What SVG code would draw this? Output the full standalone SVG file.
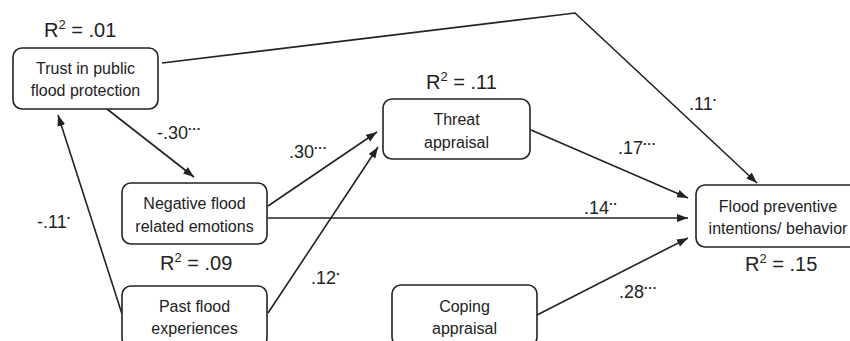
<svg xmlns="http://www.w3.org/2000/svg" width="850" height="341" viewBox="0 0 850 341">
<style>
.box{fill:#fff;stroke:#222;stroke-width:1.6}
.bt{font-family:"Liberation Sans",Arial,sans-serif;font-size:16px;fill:#222;text-anchor:middle}
.lb{font-family:"Liberation Sans",Arial,sans-serif;font-size:18px;fill:#222}
.r2{font-family:"Liberation Sans",Arial,sans-serif;font-size:20px;fill:#222}
.sup{font-size:13px;font-weight:bold}
.s2{font-size:13px}
.c{fill:none;stroke:#222;stroke-width:1.6}
</style>
<defs>
<marker id="ah" markerUnits="userSpaceOnUse" markerWidth="12" markerHeight="9" refX="11" refY="4" orient="auto">
<path d="M0,0 L11,4 L0,8 z" fill="#222"/>
</marker>
</defs>
<rect width="850" height="341" fill="#fff"/>
<g id="connectors">
<polyline class="c" points="162,63 575,13 757,183" marker-end="url(#ah)"/>
<line class="c" x1="107" y1="109" x2="194" y2="177" marker-end="url(#ah)"/>
<line class="c" x1="122" y1="314" x2="58" y2="115" marker-end="url(#ah)"/>
<line class="c" x1="268" y1="206" x2="377" y2="132" marker-end="url(#ah)"/>
<line class="c" x1="268" y1="313" x2="378" y2="147" marker-end="url(#ah)"/>
<line class="c" x1="268" y1="218" x2="688" y2="218" marker-end="url(#ah)"/>
<line class="c" x1="531" y1="130" x2="688" y2="198" marker-end="url(#ah)"/>
<line class="c" x1="537" y1="315" x2="688" y2="238" marker-end="url(#ah)"/>
<text class="lb" x="157" y="139">-.30<tspan class="sup" dy="-6">···</tspan></text>
<text class="lb" x="37" y="228">-.11<tspan class="sup" dy="-6">·</tspan></text>
<text class="lb" x="289" y="158">.30<tspan class="sup" dy="-6">···</tspan></text>
<text class="lb" x="311" y="284">.12<tspan class="sup" dy="-6">·</tspan></text>
<text class="lb" x="584" y="214">.14<tspan class="sup" dy="-6">··</tspan></text>
<text class="lb" x="618" y="154">.17<tspan class="sup" dy="-6">···</tspan></text>
<text class="lb" x="689" y="110">.11<tspan class="sup" dy="-6">·</tspan></text>
<text class="lb" x="619" y="298">.28<tspan class="sup" dy="-6">···</tspan></text>
</g>
<g id="trust">
<rect class="box" x="13" y="48" width="145" height="61" rx="9"/>
<text class="bt" x="85.5" y="74">Trust in public</text>
<text class="bt" x="85.5" y="96">flood protection</text>
<text class="r2" x="44" y="37">R<tspan class="s2" dy="-8">2</tspan><tspan dy="8"> = .01</tspan></text>
</g>
<g id="negative">
<rect class="box" x="122" y="183" width="145" height="61" rx="9"/>
<text class="bt" x="194.5" y="209">Negative flood</text>
<text class="bt" x="194.5" y="232">related emotions</text>
<text class="r2" x="160" y="270">R<tspan class="s2" dy="-8">2</tspan><tspan dy="8"> = .09</tspan></text>
</g>
<g id="past">
<rect class="box" x="122" y="286" width="145" height="61" rx="9"/>
<text class="bt" x="194.5" y="312">Past flood</text>
<text class="bt" x="194.5" y="334">experiences</text>
</g>
<g id="threat">
<rect class="box" x="383" y="99" width="147" height="60" rx="9"/>
<text class="bt" x="456.5" y="125">Threat</text>
<text class="bt" x="456.5" y="148">appraisal</text>
<text class="r2" x="426" y="89">R<tspan class="s2" dy="-8">2</tspan><tspan dy="8"> = .11</tspan></text>
</g>
<g id="coping">
<rect class="box" x="392" y="285" width="145" height="61" rx="9"/>
<text class="bt" x="464.5" y="312">Coping</text>
<text class="bt" x="464.5" y="334">appraisal</text>
</g>
<g id="flood">
<rect class="box" x="696" y="185" width="170" height="62" rx="9"/>
<text class="bt" x="778" y="212">Flood preventive</text>
<text class="bt" x="778" y="234">intentions/ behavior</text>
<text class="r2" x="745" y="271">R<tspan class="s2" dy="-8">2</tspan><tspan dy="8"> = .15</tspan></text>
</g>
</svg>
